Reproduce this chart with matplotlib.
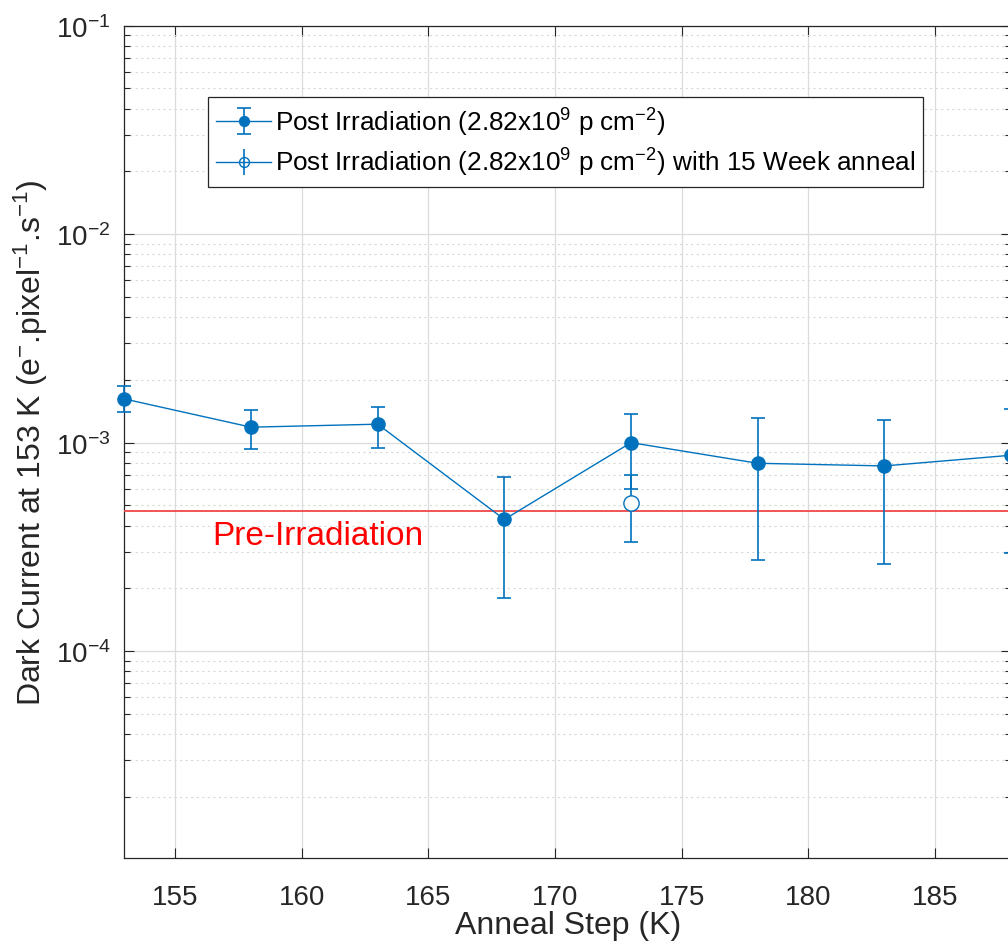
import matplotlib
matplotlib.use("Agg")
import matplotlib.pyplot as plt
from matplotlib.ticker import LogLocator, MultipleLocator, NullFormatter

plt.rcParams['font.family'] = ['Liberation Sans', 'DejaVu Sans']
plt.rcParams['mathtext.default'] = 'regular'

# anneal steps (K) and dark current (e-/pixel/s)
anneal_step = [153, 158, 163, 168, 173, 178, 183, 188]
dark_current = [1.62e-3, 1.186e-3, 1.226e-3, 4.28e-4, 1.0e-3, 7.96e-4, 7.73e-4, 8.70e-4]
err_upper = [1.86e-3, 1.43e-3, 1.49e-3, 6.82e-4, 1.37e-3, 1.315e-3, 1.285e-3, 1.447e-3]
err_lower = [1.405e-3, 0.936e-3, 0.946e-3, 1.79e-4, 3.32e-4, 2.73e-4, 2.61e-4, 2.94e-4]

# 15 week anneal point
anneal_step_15w = [173]
dark_current_15w = [5.11e-4]
err_hi_15w = [6.97e-4]
err_lo_15w = [6.01e-4]

pre_irradiation = 4.69e-4

blue = '#0072BD'

fig = plt.figure(figsize=(10.08, 9.45), dpi=100)
ax = fig.add_axes([0.1234, 0.0913, 0.8796, 0.8804])

yerr = [[d - lo for d, lo in zip(dark_current, err_lower)],
        [hi - d for d, hi in zip(dark_current, err_upper)]]
h1 = ax.errorbar(anneal_step, dark_current, yerr=yerr, color=blue, marker='o',
                 markersize=9.5, lw=1.0, elinewidth=1.2, capsize=5, capthick=1.2,
                 clip_on=False, zorder=4,
                 label=r'Post Irradiation (2.82x10$^{9}$ p cm$^{-2}$)')

# error caps for the annealed point, then its hollow marker
mid = [(a + b) / 2 for a, b in zip(err_hi_15w, err_lo_15w)]
half = [(a - b) / 2 for a, b in zip(err_hi_15w, err_lo_15w)]
ax.errorbar(anneal_step_15w, mid, yerr=half, color=blue, fmt='none',
            elinewidth=1.2, capsize=5, capthick=1.2, zorder=4)
ax.plot(anneal_step_15w, dark_current_15w, 'o', mfc='white', mec=blue,
        markersize=11, mew=1.0, zorder=5)
h2 = ax.errorbar([], [], yerr=[], color=blue, marker='o', mfc='none', mec=blue,
                 markersize=9.5, lw=1.0, elinewidth=1.2, capsize=5, capthick=1.2,
                 label=r'Post Irradiation (2.82x10$^{9}$ p cm$^{-2}$) with 15 Week anneal')

ax.axhline(pre_irradiation, color='#f04848', lw=1.3, zorder=3)
ax.text(156.45, 3.28e-4, 'Pre-Irradiation', color='red', fontsize=24, va='baseline')

ax.set_yscale('log')
ax.set_xlim(153, 188)
ax.set_ylim(1.02e-5, 1e-1)
ax.xaxis.set_major_locator(MultipleLocator(5))
ax.yaxis.set_major_locator(LogLocator(base=10, numticks=10))
ax.yaxis.set_minor_locator(LogLocator(base=10, subs=range(2, 10), numticks=20))
ax.yaxis.set_minor_formatter(NullFormatter())

ax.grid(which='major', color='#dcdcdc', lw=0.9, ls='-')
ax.grid(which='minor', axis='y', color='#d8d8d8', lw=0.8, ls=(0, (2, 3)))
ax.set_axisbelow(True)

ax.tick_params(which='both', direction='in', top=True, right=True, labelsize=20,
               color='#262626', labelcolor='#262626')
ax.tick_params(axis='x', pad=19)
ax.tick_params(axis='y', pad=10)
ax.tick_params(which='major', length=7, width=0.8)
ax.tick_params(which='minor', length=4, width=0.8)
for s in ax.spines.values():
    s.set_color('#262626')
    s.set_linewidth(0.9)

ax.set_xlabel('Anneal Step (K)', fontsize=23, color='#262626', labelpad=0)
ax.set_ylabel(r'Dark Current at 153 K (e$^{-}$.pixel$^{-1}$.s$^{-1}$)', fontsize=23,
              color='#262626', labelpad=4)

leg = ax.legend(handles=[h1, h2], loc='upper left', bbox_to_anchor=(0.094, 0.914),
                borderaxespad=0, fontsize=18.8, fancybox=False, framealpha=1,
                edgecolor='#262626', handlelength=2.1, handletextpad=0.15,
                labelspacing=0.32, borderpad=0.32, markerscale=0.75)
leg.get_frame().set_linewidth(0.9)

fig.savefig('out.png', dpi=100)
